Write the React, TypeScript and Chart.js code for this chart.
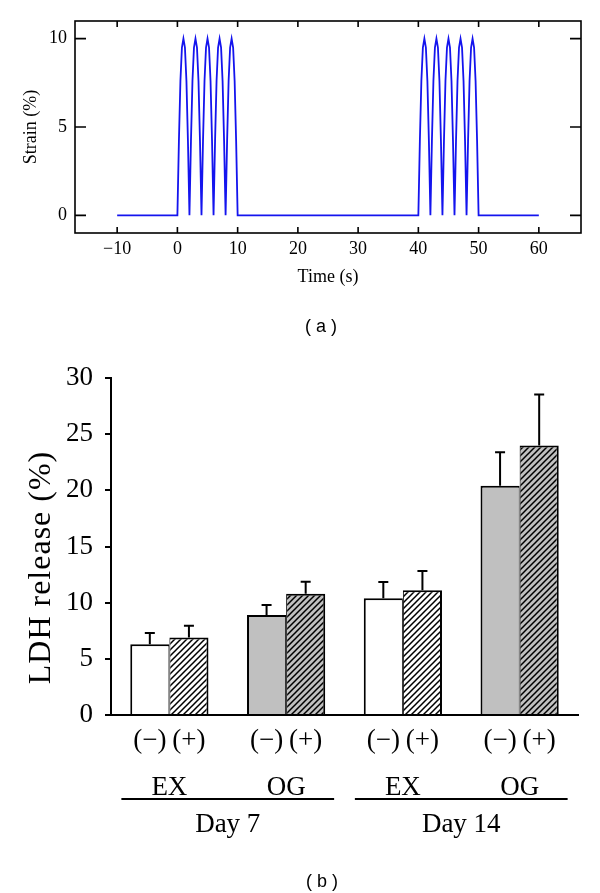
import React, { useEffect, useRef } from 'react';
import { Chart, registerables } from 'chart.js';

Chart.register(...registerables);

// ---------- Panel (a): strain waveform ----------
const timeS = [
  -10,
  0, 0.25, 0.5, 0.75, 1, 1.25, 1.5, 1.75,
  2, 2.25, 2.5, 2.75, 3, 3.25, 3.5, 3.75,
  4, 4.25, 4.5, 4.75, 5, 5.25, 5.5, 5.75,
  6, 6.25, 6.5, 6.75, 7, 7.25, 7.5, 7.75,
  8, 8.25, 8.5, 8.75, 9, 9.25, 9.5, 9.75,
  10,
  40, 40.25, 40.5, 40.75, 41, 41.25, 41.5, 41.75,
  42, 42.25, 42.5, 42.75, 43, 43.25, 43.5, 43.75,
  44, 44.25, 44.5, 44.75, 45, 45.25, 45.5, 45.75,
  46, 46.25, 46.5, 46.75, 47, 47.25, 47.5, 47.75,
  48, 48.25, 48.5, 48.75, 49, 49.25, 49.5, 49.75,
  50,
  60,
];
const strainPct = [
  0,
  0, 4.2, 7.6, 9.5, 10, 9.5, 7.6, 4.2,
  0, 4.2, 7.6, 9.5, 10, 9.5, 7.6, 4.2,
  0, 4.2, 7.6, 9.5, 10, 9.5, 7.6, 4.2,
  0, 4.2, 7.6, 9.5, 10, 9.5, 7.6, 4.2,
  0, 4.2, 7.6, 9.5, 10, 9.5, 7.6, 4.2,
  0,
  0, 4.2, 7.6, 9.5, 10, 9.5, 7.6, 4.2,
  0, 4.2, 7.6, 9.5, 10, 9.5, 7.6, 4.2,
  0, 4.2, 7.6, 9.5, 10, 9.5, 7.6, 4.2,
  0, 4.2, 7.6, 9.5, 10, 9.5, 7.6, 4.2,
  0, 4.2, 7.6, 9.5, 10, 9.5, 7.6, 4.2,
  0,
  0,
];
const timeTicks = [-10, 0, 10, 20, 30, 40, 50, 60];
const strainTicks = [0, 5, 10];

// ---------- Panel (b): LDH release ----------
const groupLabels = ['EX', 'OG', 'EX', 'OG'];
const dayLabels = ['Day 7', 'Day 14'];
const signLabels = ['(\u2212)', '(+)'];
const ldhMinus = [6.3, 8.9, 10.4, 20.4];
const ldhPlus = [6.9, 10.8, 11.1, 24.0];
const errMinus = [1.0, 0.9, 1.45, 3.0];
const errPlus = [1.05, 1.07, 1.72, 4.54];
const ldhTicks = [0, 5, 10, 15, 20, 25, 30];

const SERIF = "'Liberation Serif', 'Times New Roman', serif";
const SANS = "'Liberation Sans', Arial, sans-serif";
const GRAY = '#c0c0c0';

function makeHatch(bg: string): CanvasPattern | string {
  const s = 6;
  const c = document.createElement('canvas');
  c.width = s;
  c.height = s;
  const g = c.getContext('2d');
  if (!g) return bg;
  g.fillStyle = bg;
  g.fillRect(0, 0, s, s);
  g.strokeStyle = '#000';
  g.lineWidth = 1.5;
  g.beginPath();
  g.moveTo(-1, s + 1);
  g.lineTo(s + 1, -1);
  g.moveTo(-1, 1);
  g.lineTo(1, -1);
  g.moveTo(s - 1, s + 1);
  g.lineTo(s + 1, s - 1);
  g.stroke();
  return g.createPattern(c, 'repeat') || bg;
}

const frameAPlugin = {
  id: 'frameA',
  afterDraw(chart: any) {
    const { ctx, chartArea: a, scales } = chart;
    ctx.save();
    ctx.strokeStyle = '#000';
    ctx.lineWidth = 1.6;
    ctx.strokeRect(a.left, a.top, a.right - a.left, a.bottom - a.top);
    ctx.beginPath();
    for (const v of timeTicks) {
      const p = scales.x.getPixelForValue(v);
      ctx.moveTo(p, a.bottom);
      ctx.lineTo(p, a.bottom - 6);
      ctx.moveTo(p, a.top);
      ctx.lineTo(p, a.top + 6);
    }
    for (const v of strainTicks) {
      const p = scales.y.getPixelForValue(v);
      ctx.moveTo(a.left, p);
      ctx.lineTo(a.left + 11, p);
      ctx.moveTo(a.right, p);
      ctx.lineTo(a.right - 11, p);
    }
    ctx.stroke();
    ctx.fillStyle = '#000';
    ctx.font = `18px ${SANS}`;
    ctx.textAlign = 'center';
    ctx.textBaseline = 'middle';
    ctx.fillText('( a )', 321, 327);
    ctx.restore();
  },
};

const errorBarPlugin = {
  id: 'errBars',
  afterDatasetsDraw(chart: any) {
    const { ctx, scales } = chart;
    const errs = [errMinus, errPlus];
    const vals = [ldhMinus, ldhPlus];
    ctx.save();
    ctx.strokeStyle = '#000';
    ctx.lineWidth = 2;
    chart.data.datasets.forEach((_: any, di: number) => {
      const meta = chart.getDatasetMeta(di);
      meta.data.forEach((el: any, j: number) => {
        const x = el.x;
        const yTop = scales.y.getPixelForValue(vals[di][j]);
        const yErr = scales.y.getPixelForValue(vals[di][j] + errs[di][j]);
        ctx.beginPath();
        ctx.moveTo(x, yTop);
        ctx.lineTo(x, yErr);
        ctx.moveTo(x - 5, yErr);
        ctx.lineTo(x + 5, yErr);
        ctx.stroke();
      });
    });
    ctx.restore();
  },
};

const labelsBPlugin = {
  id: 'labelsB',
  afterDraw(chart: any) {
    const { ctx, scales, chartArea: a } = chart;
    const base = a.bottom;
    ctx.save();
    ctx.fillStyle = '#000';
    ctx.strokeStyle = '#000';
    ctx.textAlign = 'center';
    ctx.textBaseline = 'alphabetic';
    ctx.font = `27px ${SERIF}`;
    // sign labels under each bar
    chart.data.datasets.forEach((_: any, di: number) => {
      const meta = chart.getDatasetMeta(di);
      meta.data.forEach((el: any) => {
        ctx.fillText(signLabels[di], el.x, base + 33);
      });
    });
    // group labels
    groupLabels.forEach((g, j) => {
      ctx.fillText(g, scales.x.getPixelForValue(j), base + 80);
    });
    // day underlines and labels
    ctx.lineWidth = 2;
    dayLabels.forEach((d, k) => {
      const x0 = scales.x.getPixelForValue(2 * k) - 48;
      const x1 = scales.x.getPixelForValue(2 * k + 1) + 48;
      const y = base + 84;
      ctx.beginPath();
      ctx.moveTo(x0, y);
      ctx.lineTo(x1, y);
      ctx.stroke();
      ctx.fillText(d, (x0 + x1) / 2, base + 117);
    });
    // y-axis title
    ctx.save();
    ctx.translate(50, (a.top + a.bottom) / 2 + 21);
    ctx.rotate(-Math.PI / 2);
    ctx.font = `32px ${SERIF}`;
    try {
      (ctx as any).letterSpacing = '1px';
    } catch (e) {
      /* ignore */
    }
    ctx.fillText('LDH release (%)', 0, 0);
    ctx.restore();
    // panel tag
    ctx.font = `18px ${SANS}`;
    ctx.textBaseline = 'middle';
    ctx.fillText('( b )', 322, 542);
    ctx.restore();
  },
};

export default function App() {
  const refA = useRef<HTMLCanvasElement>(null);
  const refB = useRef<HTMLCanvasElement>(null);

  useEffect(() => {
    if (!refA.current || !refB.current) return;

    const chartA = new Chart(refA.current, {
      type: 'line',
      data: {
        datasets: [
          {
            label: 'Strain',
            data: timeS.map((t, i) => ({ x: t, y: strainPct[i] })),
            borderColor: '#1414ee',
            borderWidth: 1.8,
            pointRadius: 0,
            tension: 0,
            fill: false,
          },
        ],
      },
      options: {
        animation: false,
        responsive: false,
        events: [],
        layout: { padding: { top: 21, right: 19, left: 0, bottom: 0 } },
        plugins: { legend: { display: false }, tooltip: { enabled: false } },
        scales: {
          x: {
            type: 'linear',
            min: -17,
            max: 67,
            afterBuildTicks: (s: any) => {
              s.ticks = timeTicks.map((v) => ({ value: v }));
            },
            afterFit: (s: any) => {
              s.height = 107;
            },
            ticks: {
              autoSkip: false,
              maxRotation: 0,
              padding: 5,
              color: '#000',
              font: { family: SERIF, size: 18 },
              callback: (v: any) => (Number(v) < 0 ? '\u2212' + Math.abs(Number(v)) : String(v)),
            },
            grid: { display: false, drawTicks: false },
            border: { display: false },
            title: {
              display: true,
              text: 'Time (s)',
              color: '#000',
              font: { family: SERIF, size: 18 },
              padding: { top: 0, bottom: 52 },
            },
          },
          y: {
            type: 'linear',
            min: -1,
            max: 11,
            afterBuildTicks: (s: any) => {
              s.ticks = strainTicks.map((v) => ({ value: v }));
            },
            afterFit: (s: any) => {
              s.width = 75;
            },
            ticks: {
              autoSkip: false,
              padding: 8,
              color: '#000',
              font: { family: SERIF, size: 18 },
            },
            grid: { display: false, drawTicks: false },
            border: { display: false },
            title: {
              display: true,
              text: 'Strain (%)',
              color: '#000',
              font: { family: SERIF, size: 18 },
              padding: { top: 20, bottom: 0 },
            },
          },
        },
      },
      plugins: [frameAPlugin],
    } as any);

    const hatchWhite = makeHatch('#ffffff');
    const hatchGray = makeHatch(GRAY);
    const plainFill = groupLabels.map((g) => (g === 'EX' ? '#ffffff' : GRAY));
    const hatchFill = groupLabels.map((g) => (g === 'EX' ? hatchWhite : hatchGray));

    const chartB = new Chart(refB.current, {
      type: 'bar',
      data: {
        labels: groupLabels.map((g, i) => `${dayLabels[i < 2 ? 0 : 1]} ${g}`),
        datasets: [
          {
            label: signLabels[0],
            data: ldhMinus,
            backgroundColor: plainFill,
            borderColor: '#000',
            borderWidth: { left: 2, top: 2, right: 1, bottom: 0 },
            borderSkipped: 'start',
            categoryPercentage: 0.67,
            barPercentage: 1.0,
          },
          {
            label: signLabels[1],
            data: ldhPlus,
            backgroundColor: hatchFill,
            borderColor: '#000',
            borderWidth: { left: 1, top: 2, right: 2, bottom: 0 },
            borderSkipped: 'start',
            categoryPercentage: 0.67,
            barPercentage: 1.0,
          },
        ],
      },
      options: {
        animation: false,
        responsive: false,
        events: [],
        layout: { padding: { top: 38, right: 22, left: 0, bottom: 0 } },
        plugins: { legend: { display: false }, tooltip: { enabled: false } },
        scales: {
          x: {
            type: 'category',
            afterFit: (s: any) => {
              s.height = 178;
            },
            ticks: { display: false },
            grid: { display: false, drawTicks: false },
            border: { display: true, color: '#000', width: 2 },
          },
          y: {
            type: 'linear',
            min: 0,
            max: 30,
            afterBuildTicks: (s: any) => {
              s.ticks = ldhTicks.map((v) => ({ value: v }));
            },
            afterFit: (s: any) => {
              s.width = 111;
            },
            ticks: {
              autoSkip: false,
              padding: 12,
              color: '#000',
              font: { family: SERIF, size: 27 },
            },
            grid: {
              display: true,
              drawOnChartArea: false,
              drawTicks: true,
              tickLength: 6,
              lineWidth: 2,
              color: '#000',
            },
            border: { display: true, color: '#000', width: 2 },
          },
        },
      },
      plugins: [errorBarPlugin, labelsBPlugin],
    } as any);

    return () => {
      chartA.destroy();
      chartB.destroy();
    };
  }, []);

  return (
    <div
      style={{
        position: 'absolute',
        left: 0,
        top: 0,
        width: 600,
        height: 893,
        background: '#ffffff',
        overflow: 'hidden',
      }}
    >
      <canvas
        ref={refA}
        width={600}
        height={340}
        style={{ position: 'absolute', left: 0, top: 0 }}
      />
      <canvas
        ref={refB}
        width={600}
        height={553}
        style={{ position: 'absolute', left: 0, top: 340 }}
      />
    </div>
  );
}
